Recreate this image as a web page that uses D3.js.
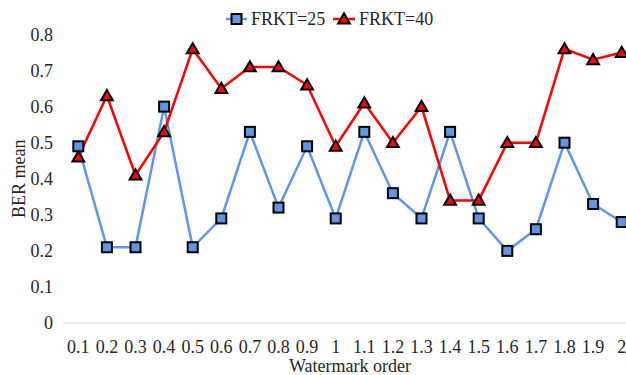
<!DOCTYPE html>
<html><head><meta charset="utf-8">
<script src="https://cdn.jsdelivr.net/npm/d3@7"></script>
<style>body{margin:0;background:#fff}svg{display:block}</style>
</head><body><svg id="c" width="626" height="375" style="font-family:'Liberation Serif','Times New Roman',serif"></svg>
<script>
const categories = ["0.1","0.2","0.3","0.4","0.5","0.6","0.7","0.8","0.9","1","1.1","1.2","1.3","1.4","1.5","1.6","1.7","1.8","1.9","2"];
const frkt25 = [0.49,0.21,0.21,0.60,0.21,0.29,0.53,0.32,0.49,0.29,0.53,0.36,0.29,0.53,0.29,0.20,0.26,0.50,0.33,0.28];
const frkt40 = [0.46,0.63,0.41,0.53,0.76,0.65,0.71,0.71,0.66,0.49,0.61,0.50,0.60,0.34,0.34,0.50,0.50,0.76,0.73,0.75];
const yTicks = [0,0.1,0.2,0.3,0.4,0.5,0.6,0.7,0.8];
const seriesNames = ["FRKT=25","FRKT=40"];

const FONT = "'Liberation Serif','Times New Roman',serif";
const svg = d3.select("#c");
const x = d3.scaleBand().domain(categories).range([64, 636]);
const y = d3.scaleLinear().domain([0, 0.8]).range([323, 34.5]);
const cx = d => x(d) + x.bandwidth()/2;
function styleText(sel){ sel.style("font-family",FONT).style("font-size","18px").style("fill","#262626"); }

// baseline
svg.append("line").attr("x1",64).attr("x2",626).attr("y1",y(0)).attr("y2",y(0)).attr("stroke","#d9d9d9").attr("stroke-width",1);

// y axis labels
const ya = svg.append("g").attr("transform","translate(53,0)").call(d3.axisLeft(y).tickValues(yTicks).tickSize(0).tickFormat(d=>d===0?"0":d3.format(".1f")(d)));
ya.attr("font-family",null);
ya.select(".domain").remove();
ya.selectAll("text").call(styleText).attr("x",0).attr("dy","0.33em");

// x axis labels
const xa = svg.append("g").attr("transform","translate(0,341)").call(d3.axisBottom(x).tickSize(0));
xa.attr("font-family",null);
xa.select(".domain").remove();
xa.selectAll("text").call(styleText).attr("dy","0.33em").attr("y",6);

svg.append("text").attr("x",350).attr("y",372).attr("text-anchor","middle").text("Watermark order").call(styleText);
svg.append("text").attr("transform","translate(25,"+(y(0.4))+") rotate(-90)").attr("text-anchor","middle").text("BER mean").call(styleText);

const line = d3.line().x((d,i)=>cx(categories[i])).y(d=>y(d));
const blue = "#5E97E6", red = "#FF0000";
svg.append("path").datum(frkt25).attr("d",line).attr("fill","none").attr("stroke",blue).attr("stroke-width",2.5);
svg.append("path").datum(frkt40).attr("d",line).attr("fill","none").attr("stroke",red).attr("stroke-width",2.5);

const tri = d3.symbol().type(d3.symbolTriangle).size(60);
function square(g, px, py){ g.append("rect").attr("x",px-5).attr("y",py-5).attr("width",10).attr("height",10).attr("fill",blue).attr("stroke","#000").attr("stroke-width",2); }
function triangle(g, px, py){ g.append("path").attr("d",tri()).attr("transform",`translate(${px},${py+1})`).attr("fill",red).attr("stroke","#000").attr("stroke-width",2).attr("stroke-linejoin","miter"); }

const m25 = svg.append("g"), m40 = svg.append("g");
frkt25.forEach((v,i)=>square(m25, cx(categories[i]), y(v)));
frkt40.forEach((v,i)=>triangle(m40, cx(categories[i]), y(v)));

// legend
const lg = svg.append("g");
lg.append("line").attr("x1",226).attr("x2",247).attr("y1",19).attr("y2",19).attr("stroke",blue).attr("stroke-width",2.5);
square(lg, 236.5, 19);
lg.append("text").attr("x",251).attr("y",19).attr("dy","0.33em").text(seriesNames[0]).call(styleText);
lg.append("line").attr("x1",333).attr("x2",355).attr("y1",19).attr("y2",19).attr("stroke",red).attr("stroke-width",2.5);
triangle(lg, 344, 19);
lg.append("text").attr("x",359).attr("y",19).attr("dy","0.33em").text(seriesNames[1]).call(styleText);
</script></body></html>
